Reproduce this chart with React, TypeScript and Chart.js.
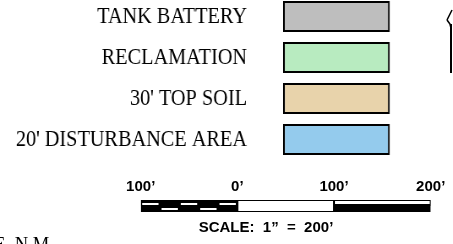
import React, { useEffect, useRef } from "react";
import { Chart, registerables } from "chart.js";

Chart.register(...registerables);

// ---- legend data ----
const legendLabels = ["TANK BATTERY", "RECLAMATION", "30' TOP SOIL", "20' DISTURBANCE AREA"];
const legendColors = ["#bebebe", "#b8ebc0", "#e8d3ab", "#94cbed"];
const swatchSpans: [number, number][] = [[0, 1], [0, 1], [0, 1], [0, 1]];

// ---- scale bar data (feet) ----
const scaleTicks = [-100, 0, 100, 200];
const scaleTickLabels = ["100’", "0’", "100’", "200’"];
const scaleRows = ["upper", "lower"];
const scaleExtent: [number, number] = [-100, 200];
const upperWhite: ([number, number] | null)[] = [[-100, -80], [-60, -40], [-20, 0], [0, 100], [100, 200]];
const lowerWhite: ([number, number] | null)[] = [[-80, -60], [-40, -20], [0, 100], null, null];
const scaleCaption = "SCALE:  1”  =  200’";
const footerText = "E, N.M.";

const K = 0.845; // horizontal condensing of the serif legend lettering

export default function App() {
  const legendRef = useRef<HTMLCanvasElement>(null);
  const scaleRef = useRef<HTMLCanvasElement>(null);

  useEffect(() => {
    const legend = new Chart(legendRef.current!, {
      type: "bar",
      data: {
        labels: legendLabels,
        datasets: [
          {
            data: swatchSpans as any,
            backgroundColor: legendColors,
            borderColor: "#000",
            borderWidth: { top: 2, bottom: 2, left: 2 / K, right: 2 / K } as any,
            borderSkipped: false,
            inflateAmount: 0,
            barPercentage: 1,
            categoryPercentage: 31 / 41,
          },
        ],
      },
      options: {
        indexAxis: "y",
        animation: false,
        responsive: false,
        devicePixelRatio: 1,
        layout: { padding: { left: 0, right: 8.5, top: 0, bottom: 0 } },
        plugins: { legend: { display: false }, tooltip: { enabled: false } },
        scales: {
          x: { type: "linear", min: 0, max: 1, display: false },
          y: {
            type: "category",
            position: "left",
            grid: { display: false, drawTicks: false },
            border: { display: false },
            ticks: {
              padding: 42.6,
              color: "#000",
              autoSkip: false,
              font: { family: "'Liberation Serif', 'Times New Roman', serif", size: 24 },
            },
            afterFit: (s: any) => {
              s.width = 334.9;
              s.paddingTop = 0;
              s.paddingBottom = 0;
            },
          },
        },
      },
    });

    const styleFor = (ctx: any) => {
      const raw = ctx.raw as [number, number] | null;
      const row = ctx.dataIndex;
      if (!raw) return 0;
      if (raw[0] === 0 && raw[1] === 100) {
        return row === 0 ? { top: 1, bottom: 0, left: 1, right: 1 } : { top: 0, bottom: 1, left: 1, right: 1 };
      }
      if (raw[0] === 100) return { top: 1, bottom: 2, left: 1, right: 1 };
      if (row === 0) return { top: 3, bottom: 1, left: 1.5, right: 1.5 };
      return { top: 2, bottom: 2, left: 1.5, right: 1.5 };
    };

    const whiteSets = upperWhite.map((u, i) => ({
      data: [u, lowerWhite[i]] as any,
      backgroundColor: "#fff",
      borderColor: "#000",
      borderWidth: styleFor as any,
      borderSkipped: false,
      inflateAmount: 0,
      grouped: false,
      barPercentage: 1,
      categoryPercentage: 1,
      order: 0,
    }));

    const sansFont = "'Liberation Sans', Arial, sans-serif";

    const scale = new Chart(scaleRef.current!, {
      type: "bar",
      data: {
        labels: scaleRows,
        datasets: [
          ...whiteSets,
          {
            data: [scaleExtent, scaleExtent] as any,
            backgroundColor: "#000",
            borderWidth: 0,
            inflateAmount: 0,
            grouped: false,
            barPercentage: 1,
            categoryPercentage: 1,
            order: 10,
          },
        ],
      },
      options: {
        indexAxis: "y",
        animation: false,
        responsive: false,
        devicePixelRatio: 1,
        layout: { padding: { left: 101.3, right: 22.3, top: 4, bottom: 7 } },
        plugins: {
          legend: { display: false },
          tooltip: { enabled: false },
          title: {
            display: true,
            position: "bottom",
            text: scaleCaption,
            color: "#000",
            font: { family: sansFont, size: 15, weight: "bold" },
            padding: { top: 7, bottom: 0 },
          },
        },
        scales: {
          x: {
            type: "linear",
            position: "top",
            min: scaleExtent[0],
            max: scaleExtent[1],
            grid: { display: false, drawTicks: false },
            border: { display: false },
            afterBuildTicks: (s: any) => {
              s.ticks = scaleTicks.map((v) => ({ value: v }));
            },
            ticks: {
              padding: 4,
              color: "#000",
              maxRotation: 0,
              autoSkip: false,
              font: { family: sansFont, size: 15, weight: "bold" },
              callback: (v: any) => scaleTickLabels[scaleTicks.indexOf(Number(v))],
            },
          },
          y: {
            type: "category",
            grid: { display: false, drawTicks: false },
            border: { display: false },
            ticks: { display: false, padding: 0 },
            afterFit: (s: any) => {
              s.width = 39.4;
              s.paddingTop = 0;
              s.paddingBottom = 0;
            },
          },
        },
      },
    });

    return () => {
      legend.destroy();
      scale.destroy();
    };
  }, []);

  return (
    <div style={{ position: "fixed", left: 0, top: 0, width: 453, height: 244, overflow: "hidden", background: "#fff" }}>
      <canvas
        ref={legendRef}
        width={470}
        height={164}
        style={{ position: "absolute", left: 0, top: -4, width: 470, height: 164, transform: `scaleX(${K})`, transformOrigin: "0 0" }}
      />
      <canvas ref={scaleRef} width={453} height={74} style={{ position: "absolute", left: 0, top: 170, width: 453, height: 74 }} />
      <div
        style={{
          position: "absolute",
          left: -6,
          top: 232,
          fontFamily: "'Liberation Serif', 'Times New Roman', serif",
          fontSize: 22,
          lineHeight: "24px",
          whiteSpace: "nowrap",
          transform: `scaleX(${K})`,
          transformOrigin: "0 0",
          color: "#000",
        }}
      >
        {footerText}
      </div>
      <svg width={13} height={80} style={{ position: "absolute", left: 440, top: 0 }}>
        <path d="M 7 20 L 12 10" stroke="#000" strokeWidth={1.6} fill="none" />
        <path d="M 7 20 L 10 24 L 11 28" stroke="#000" strokeWidth={1.6} fill="none" />
        <path d="M 11 24 L 11 73" stroke="#000" strokeWidth={2} fill="none" />
      </svg>
    </div>
  );
}
